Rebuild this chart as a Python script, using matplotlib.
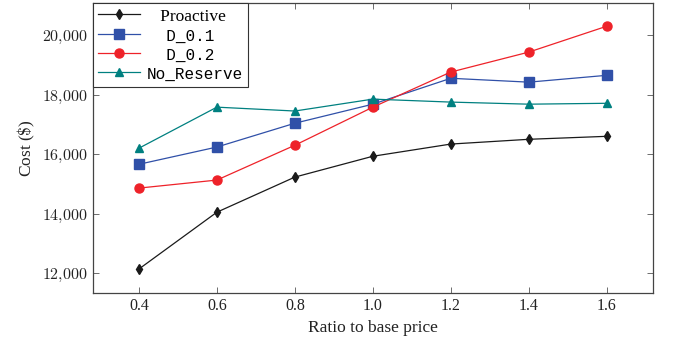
import matplotlib
matplotlib.use('Agg')
import matplotlib.pyplot as plt
from matplotlib.ticker import FuncFormatter

plt.rcParams['mathtext.fontset'] = 'cm'
plt.rcParams['font.family'] = 'Liberation Serif'

ratio = [0.4, 0.6, 0.8, 1.0, 1.2, 1.4, 1.6]
proactive = [12140, 14050, 15230, 15930, 16340, 16500, 16600]
d_01 = [15660, 16240, 17040, 17680, 18550, 18420, 18650]
d_02 = [14860, 15130, 16300, 17580, 18760, 19430, 20300]
no_reserve = [16200, 17580, 17450, 17850, 17750, 17680, 17710]
yticks = [12000, 14000, 16000, 18000, 20000]

fig = plt.figure(figsize=(6.73, 3.49), dpi=100)
ax = fig.add_axes([0.138, 0.160, 0.832, 0.831])

ax.plot(ratio, proactive, color='#1a1a1a', marker='d', ms=5, lw=0.9, label='Proactive')
ax.plot(ratio, d_01, color='#3050a8', marker='s', ms=6.5, lw=0.9, label='D_0.1')
ax.plot(ratio, d_02, color='#ee2229', marker='o', ms=6.5, lw=0.9, label='D_0.2')
ax.plot(ratio, no_reserve, color='#008080', marker='^', ms=6, lw=0.9, label='No_Reserve')

ax.set_xlim(0.282, 1.718)
ax.set_ylim(11330, 21075)
ax.set_xticks(ratio)
ax.set_xticklabels(['%.1f' % r for r in ratio])
ax.set_yticks(yticks)
ax.yaxis.set_major_formatter(FuncFormatter(lambda v, p: r'$%d{,}%03d$' % (v // 1000, v % 1000)))
ax.tick_params(direction='in', top=True, right=True, length=4, width=0.6, colors='#555555',
               labelcolor='#222222', labelsize=11.5)
for s in ax.spines.values():
    s.set_linewidth(0.9)
    s.set_color('#444444')

ax.set_xlabel('Ratio to base price', fontsize=12.5, color='#222222')
ax.set_ylabel('Cost ($\\$$)', fontsize=12.5, color='#222222')

leg = ax.legend(loc='upper left', fancybox=False, edgecolor='#333333', framealpha=1,
                borderaxespad=0, handlelength=2.4, fontsize=12.5, borderpad=0.3,
                labelspacing=0.22, handletextpad=0.4)
leg.get_frame().set_linewidth(0.8)
for t in leg.get_texts()[1:]:
    t.set_family('Liberation Mono')
    t.set_fontsize(11.5)
leg.get_texts()[0].set_text('   Proactive')
leg.get_texts()[1].set_text('  D_0.1')
leg.get_texts()[2].set_text('  D_0.2')

fig.savefig('out.png', dpi=100)
